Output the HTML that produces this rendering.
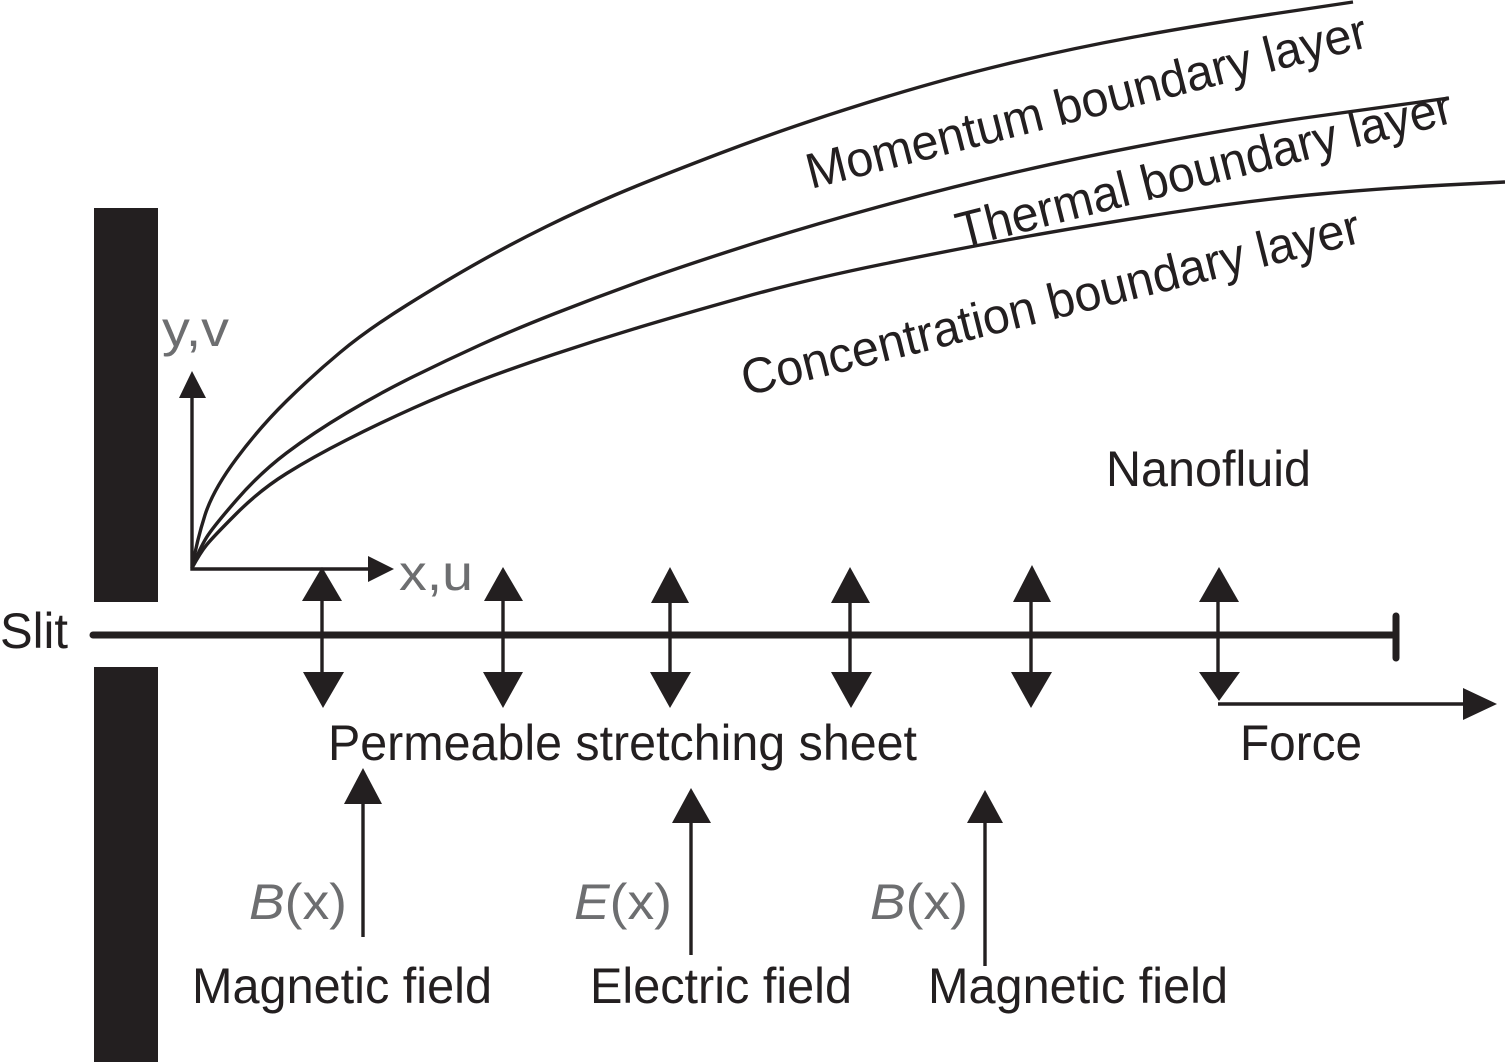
<!DOCTYPE html>
<html>
<head>
<meta charset="utf-8">
<style>
html,body{margin:0;padding:0;background:#fff;}
svg{display:block;}
text{font-family:"Liberation Sans",Arial,sans-serif;font-size:50px;fill:#231f20;}
.g{fill:#6d6e70;}
</style>
</head>
<body>
<svg width="1505" height="1062" viewBox="0 0 1505 1062" xmlns="http://www.w3.org/2000/svg">
<rect width="1505" height="1062" fill="#fff"/>
<rect x="94" y="208" width="64" height="394" fill="#231f20"/>
<rect x="94" y="667" width="64" height="395" fill="#231f20"/>

<g fill="none" stroke="#231f20" stroke-width="3.4" stroke-linejoin="round">
<path d="M192 568 Q197 540 205 515 Q213 490 236.5 458.5 Q260 427 286.5 401 Q313 375 340 352.5 Q367 330 407 305 Q447 280 480 261.5 Q513 243 546.5 226.5 Q580 210 615 195 Q650 180 719.5 153.5 Q789 127 864.5 103.5 Q940 80 1004.5 64.5 Q1069 49 1134 37 Q1199 25 1276 13.5 L1353 2"/>
<path d="M192 568 Q200 548 206.5 537.5 Q213 527 236.5 500 Q260 473 286.5 453 Q313 433 346.5 413 Q380 393 413.5 376.5 Q447 360 480 345 Q513 330 555 313.5 Q597 297 638.5 282 Q680 267 742.5 247 Q805 227 878 207 Q951 187 1021 171 Q1091 155 1172 140 Q1253 125 1315 116.5 Q1377 108 1413 103 L1449 98"/>
<path d="M192 568 Q200 553 206.5 545 Q213 537 236.5 513.5 Q260 490 286.5 473.5 Q313 457 346.5 440 Q380 423 413.5 408 Q447 393 480 380.5 Q513 368 555 354 Q597 340 638.5 327.5 Q680 315 742.5 297.5 Q805 280 883.5 264 Q962 248 1026.5 236.5 Q1091 225 1172 212.5 Q1253 200 1320 194 Q1387 188 1446 185 L1505 182"/>
</g>
<g fill="none" stroke="#231f20" stroke-width="3.4">
<path d="M192 395 V569 H372"/>
<path d="M1218 704 H1466"/>
<path d="M363 800 V937"/>
<path d="M691 820 V955"/>
<path d="M985 820 V966"/>
<path d="M322 595 V675"/>
<path d="M503 598 V675"/>
<path d="M670 600 V675"/>
<path d="M850 600 V675"/>
<path d="M1031 598 V675"/>
<path d="M1218 598 V675"/>
</g>
<path d="M93 635 H1396" stroke="#231f20" stroke-width="7" stroke-linecap="round" fill="none"/>
<path d="M1396 616 V658" stroke="#231f20" stroke-width="7" stroke-linecap="round" fill="none"/>

<g fill="#231f20">
<path d="M192 371 L206 398 H179 Z"/>
<path d="M394 569 L368 556 V582 Z"/>
<path d="M1497 704 L1463 688 V720 Z"/>
<path d="M363 768 L382 804 H344 Z"/>
<path d="M691 788 L711 823 H672 Z"/>
<path d="M985 790 L1003 823 H967 Z"/>
<path d="M322 567 L342 601 H302 Z"/><path d="M323 708 L303 672 H344 Z"/>
<path d="M503 567 L523 601 H484 Z"/><path d="M503 708 L483 672 H523 Z"/>
<path d="M670 567 L689 603 H651 Z"/><path d="M670 708 L650 672 H691 Z"/>
<path d="M850 567 L870 603 H831 Z"/><path d="M851 708 L831 672 H872 Z"/>
<path d="M1032 565 L1051 602 H1013 Z"/><path d="M1031 708 L1011 672 H1052 Z"/>
<path d="M1219 567 L1239 602 H1199 Z"/><path d="M1219 701 L1199 672 H1240 Z"/>
</g>

<text transform="translate(811 189) rotate(-14.3)" textLength="577" lengthAdjust="spacingAndGlyphs">Momentum boundary layer</text>
<text transform="translate(961 248) rotate(-14.3)" textLength="510" lengthAdjust="spacingAndGlyphs">Thermal boundary layer</text>
<text transform="translate(746 396) rotate(-14)" textLength="636" lengthAdjust="spacingAndGlyphs">Concentration boundary layer</text>
<text x="1106" y="486" textLength="205" lengthAdjust="spacingAndGlyphs">Nanofluid</text>
<text x="162" y="346" class="g" textLength="67" lengthAdjust="spacingAndGlyphs">y,v</text>
<text x="399" y="590" class="g" textLength="74" lengthAdjust="spacingAndGlyphs">x,u</text>
<text x="0" y="648" textLength="68" lengthAdjust="spacingAndGlyphs">Slit</text>
<text x="328" y="760" textLength="589" lengthAdjust="spacingAndGlyphs">Permeable stretching sheet</text>
<text x="1240" y="760" textLength="122" lengthAdjust="spacingAndGlyphs">Force</text>
<text x="249" y="919" class="g" textLength="98" lengthAdjust="spacingAndGlyphs"><tspan font-style="italic" class="g">B</tspan>(x)</text>
<text x="574" y="919" class="g" textLength="98" lengthAdjust="spacingAndGlyphs"><tspan font-style="italic" class="g">E</tspan>(x)</text>
<text x="870" y="919" class="g" textLength="98" lengthAdjust="spacingAndGlyphs"><tspan font-style="italic" class="g">B</tspan>(x)</text>
<text x="192" y="1003" textLength="300" lengthAdjust="spacingAndGlyphs">Magnetic field</text>
<text x="590" y="1003" textLength="262" lengthAdjust="spacingAndGlyphs">Electric field</text>
<text x="928" y="1003" textLength="300" lengthAdjust="spacingAndGlyphs">Magnetic field</text>
</svg>
</body>
</html>
